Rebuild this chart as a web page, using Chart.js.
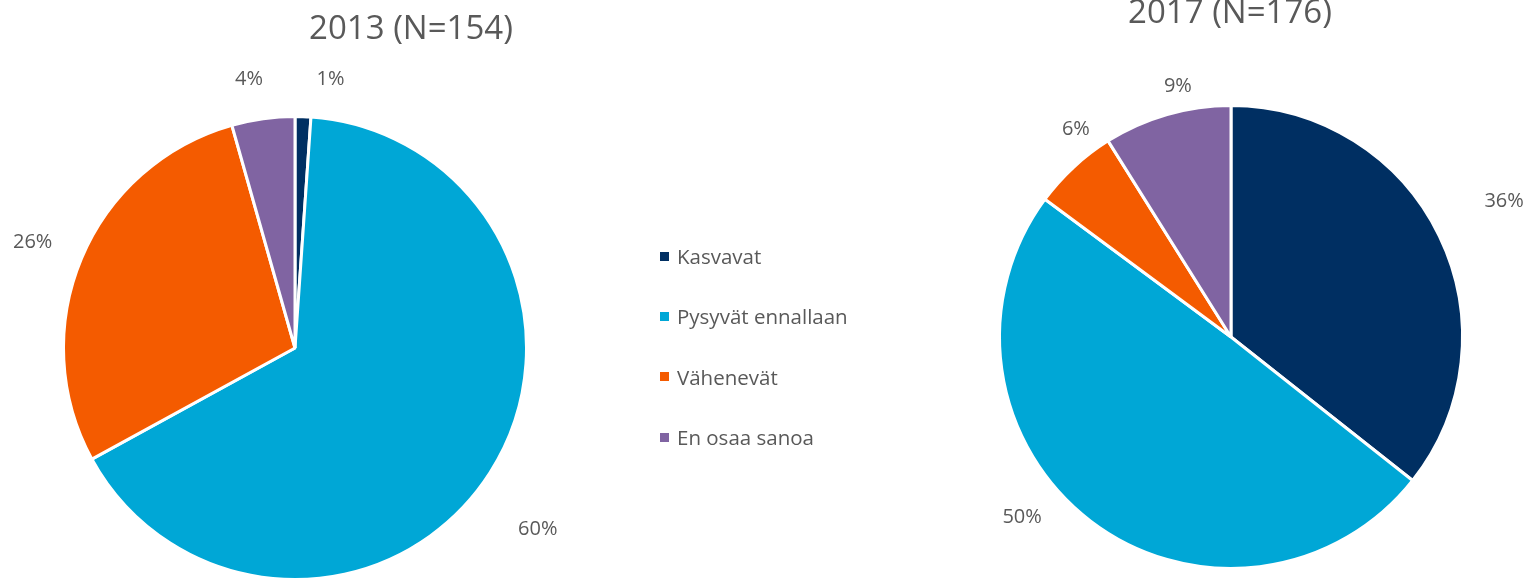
<!DOCTYPE html>
<html><head><meta charset="utf-8">
<script src="https://cdn.jsdelivr.net/npm/chart.js@4"></script>
<style>
html,body{margin:0;padding:0;background:#fff;width:1527px;height:581px;overflow:hidden;font-family:"Open Sans",sans-serif;}
#c1wrap{position:absolute;left:0;top:0;width:820px;height:581px;}
#c2wrap{position:absolute;left:933px;top:0;width:594px;height:581px;}
#legend{position:absolute;left:660px;top:226px;color:#595959;font-size:20.5px;}
#legend .item{height:60.3px;display:flex;align-items:center;white-space:nowrap;}
#legend .sw{width:9px;height:9px;margin-right:8px;display:inline-block;}
</style></head>
<body>
<div id="c1wrap"><canvas id="c1"></canvas></div>
<div id="legend"></div>
<div id="c2wrap"><canvas id="c2"></canvas></div>
<script>
const categories = ['Kasvavat', 'Pysyvät ennallaan', 'Vähenevät', 'En osaa sanoa'];
const values2013 = [1, 60, 26, 4];
const values2017 = [36, 50, 6, 9];
const labels2013 = ['1%', '60%', '26%', '4%'];
const labels2017 = ['36%', '50%', '6%', '9%'];
const title2013 = '2013 (N=154)';
const title2017 = '2017 (N=176)';
const colors = ['#002f62', '#00a7d6', '#f45b00', '#8064a2'];

const TEXT = '#595959';
const FONT = '"Open Sans", sans-serif';

const outsideLabels = {
  id: 'outsideLabels',
  afterDatasetsDraw(chart, args, opts) {
    const ctx = chart.ctx;
    const meta = chart.getDatasetMeta(0);
    ctx.save();
    ctx.font = opts.size + 'px ' + FONT;
    ctx.fillStyle = TEXT;
    ctx.textAlign = 'center';
    ctx.textBaseline = 'middle';
    meta.data.forEach((arc, i) => {
      const p = arc.getProps(['x', 'y', 'startAngle', 'endAngle', 'outerRadius'], true);
      const mid = (p.startAngle + p.endAngle) / 2;
      const dx = Math.cos(mid), dy = Math.sin(mid);
      const txt = opts.texts[i];
      const w = ctx.measureText(txt).width, h = opts.size;
      const d = p.outerRadius + opts.gap;
      const nudge = opts.nudge[i];
      const x = p.x + d * dx + dx * w / 2 + nudge[0];
      const y = p.y + d * dy + dy * h / 2 + nudge[1];
      ctx.fillText(txt, x, y);
    });
    ctx.restore();
  }
};

const pieTitle = {
  id: 'pieTitle',
  afterDraw(chart, args, opts) {
    const ctx = chart.ctx;
    ctx.save();
    ctx.font = opts.size + 'px ' + FONT;
    ctx.fillStyle = TEXT;
    ctx.textAlign = 'center';
    ctx.textBaseline = 'middle';
    ctx.fillText(opts.text, opts.x, opts.y);
    ctx.restore();
  }
};

function makePie(id, values, texts, title, pad, titlePos, nudge) {
  return new Chart(document.getElementById(id), {
    type: 'pie',
    data: {
      labels: categories,
      datasets: [{
        data: values,
        backgroundColor: colors,
        borderColor: '#ffffff',
        borderWidth: 3
      }]
    },
    options: {
      responsive: true,
      maintainAspectRatio: false,
      animation: false,
      layout: { padding: pad },
      plugins: {
        legend: { display: false },
        tooltip: { enabled: false },
        title: { display: false },
        pieTitle: { text: title, size: 33, x: titlePos[0], y: titlePos[1] },
        outsideLabels: { texts: texts, size: 20, gap: 30, nudge: nudge }
      }
    },
    plugins: [outsideLabels, pieTitle]
  });
}

makePie('c1', values2013, labels2013, title2013,
  { left: 62, right: 292, top: 115, bottom: 0 }, [411, 30],
  [[26, 3], [6, 35], [-3, -1], [-8, 0]]);
makePie('c2', values2017, labels2017, title2017,
  { left: 65, right: 63, top: 104, bottom: 11 }, [297, 14],
  [[20, -17], [-38, -35], [32, -8], [23, 10]]);

const lg = document.getElementById('legend');
categories.forEach((c, i) => {
  const it = document.createElement('div');
  it.className = 'item';
  const sw = document.createElement('span');
  sw.className = 'sw';
  sw.style.background = colors[i];
  const t = document.createElement('span');
  t.textContent = c;
  it.appendChild(sw);
  it.appendChild(t);
  lg.appendChild(it);
});
</script>
</body></html>
